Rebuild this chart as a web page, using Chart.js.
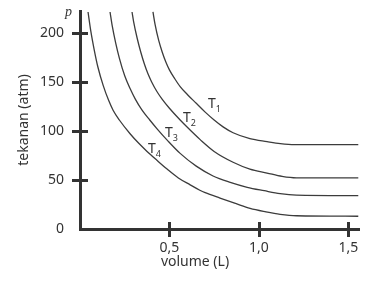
<!DOCTYPE html>
<html>
<head>
<meta charset="utf-8">
<script src="https://cdn.jsdelivr.net/npm/chart.js@4.4.1/dist/chart.umd.min.js"></script>
<style>
  html, body { margin: 0; padding: 0; background: #fff; }
  #wrap { width: 389px; height: 283px; }
</style>
</head>
<body>
<div id="wrap"><canvas id="isoChart" width="389" height="283"></canvas></div>
<script>
// Isotherms, volume (L) vs tekanan (atm)
var volT1 = [0.408, 0.42, 0.44, 0.46, 0.48, 0.50, 0.53, 0.56, 0.60, 0.65, 0.70, 0.75, 0.80, 0.856, 0.95, 1.046, 1.12, 1.20, 1.556];
var pT1   = [221,   208,  192,  180,  170,  162,  153,  145,  137,  128,  119,  111,  104,  98,    92,   89,    87,   86,   86];

var volT2 = [0.291, 0.30, 0.32, 0.34, 0.36, 0.38, 0.40, 0.43, 0.46, 0.50, 0.56, 0.62, 0.672, 0.75, 0.856, 0.95, 1.046, 1.13, 1.21, 1.556];
var pT2   = [221,   211,  194,  180,  168,  158,  150,  140,  132,  123,  111,  100,  91,    79,   68,    61,   57,    53.5, 52,   52];

var volT3 = [0.168, 0.18, 0.20, 0.22, 0.25, 0.28, 0.31, 0.347, 0.39, 0.431, 0.49, 0.56, 0.65, 0.744, 0.84, 0.935, 1.03, 1.119, 1.21, 1.556];
var pT3   = [221,   207,  189,  174,  156,  143,  132,  121,   111,  102,   90,   77,   64,   54,    47.5, 42.5,  39,   36,    34.5, 34];

var volT4 = [0.045, 0.06, 0.08, 0.10, 0.13, 0.16, 0.185, 0.22, 0.28, 0.33, 0.375, 0.43, 0.487, 0.55, 0.616, 0.67, 0.70, 0.783, 0.87, 0.951, 1.04, 1.119, 1.21, 1.556];
var pT4   = [221,   202,  182,  165,  146,  131,  121,   111,  97,   87,   79,    70,   61,    52,   45,    39.5, 37,   31.5,  26,   21,    17.5, 15,    13.5, 13];

var yTicks = [0, 50, 100, 150, 200];
var xTicks = [0.5, 1.0, 1.5];
var xTickLabels = ['0,5', '1,0', '1,5'];

// curve names and where their labels sit (in volume / pressure units)
var curveSubs = ['1', '2', '3', '4'];
var labelVol = [0.716, 0.576, 0.475, 0.380];
var labelP   = [123, 109, 94, 77];

var ink = '#333';
var font = '"Noto Sans", "DejaVu Sans", sans-serif';

function toPoints(vs, ps) {
    return vs.map(function (v, i) { return { x: v, y: ps[i] }; });
}

function curve(vs, ps) {
    return {
        data: toPoints(vs, ps),
        showLine: true,
        borderColor: '#3c3c3c',
        borderWidth: 1.3,
        pointRadius: 0,
        cubicInterpolationMode: 'monotone',
        fill: false
    };
}

// crossing tick marks, curve labels, the little p and the x title
var extras = {
    id: 'extras',
    afterDraw: function (chart) {
        var ctx = chart.ctx;
        var area = chart.chartArea;
        var xs = chart.scales.x, ys = chart.scales.y;
        ctx.save();
        ctx.strokeStyle = ink;
        ctx.lineWidth = 3;
        yTicks.forEach(function (v) {
            if (v === 0) return;
            var py = Math.round(ys.getPixelForValue(v)) + 0.5;
            ctx.beginPath();
            ctx.moveTo(area.left - 8, py);
            ctx.lineTo(area.left + 8, py);
            ctx.stroke();
        });
        xTicks.forEach(function (v) {
            var px = Math.round(xs.getPixelForValue(v)) + 0.5;
            ctx.beginPath();
            ctx.moveTo(px, area.bottom - 7);
            ctx.lineTo(px, area.bottom + 8);
            ctx.stroke();
        });

        ctx.fillStyle = ink;
        ctx.textBaseline = 'alphabetic';
        ctx.textAlign = 'left';
        curveSubs.forEach(function (s, i) {
            var px = xs.getPixelForValue(labelVol[i]);
            var py = ys.getPixelForValue(labelP[i]);
            ctx.font = '14px ' + font;
            ctx.fillText('T', px, py);
            var w = ctx.measureText('T').width;
            ctx.font = '9px ' + font;
            ctx.fillText(s, px + w, py + 4);
        });

        ctx.font = 'italic 14px "Liberation Serif", "DejaVu Serif", serif';
        ctx.fillText('p', area.left - 15, area.top + 5);

        ctx.font = '14px ' + font;
        ctx.textAlign = 'center';
        ctx.textBaseline = 'middle';
        ctx.fillText('volume (L)', area.left + 115, 262);
        ctx.restore();
    }
};

Chart.defaults.color = ink;
Chart.defaults.font.family = font;
Chart.defaults.font.size = 14;

var ctx = document.getElementById('isoChart').getContext('2d');
var isoChart = new Chart(ctx, {
    type: 'scatter',
    data: {
        datasets: [
            curve(volT1, pT1),
            curve(volT2, pT2),
            curve(volT3, pT3),
            curve(volT4, pT4)
        ]
    },
    options: {
        responsive: false,
        animation: false,
        layout: { padding: { top: 11, right: 30, left: 0, bottom: 0 } },
        plugins: {
            legend: { display: false },
            tooltip: { enabled: false }
        },
        scales: {
            x: {
                type: 'linear',
                min: 0,
                max: 1.56,
                grid: { display: false, drawTicks: false },
                border: { display: true, color: ink, width: 3 },
                afterBuildTicks: function (scale) {
                    scale.ticks = xTicks.map(function (v) { return { value: v }; });
                },
                afterFit: function (scale) {
                    scale.height = 54;
                    scale.paddingLeft = 0;
                    scale.paddingRight = 0;
                },
                ticks: {
                    padding: 11,
                    callback: function (value, index) { return xTickLabels[index]; }
                }
            },
            y: {
                type: 'linear',
                min: 0,
                max: 222,
                grid: { display: false, drawTicks: false },
                border: { display: true, color: ink, width: 3 },
                afterBuildTicks: function (scale) {
                    scale.ticks = yTicks.map(function (v) { return { value: v }; });
                },
                afterFit: function (scale) {
                    scale.width = 80;
                    scale.paddingTop = 0;
                    scale.paddingBottom = 0;
                },
                ticks: { padding: 16 },
                title: {
                    display: true,
                    text: 'tekanan (atm)',
                    font: { size: 14 },
                    padding: { top: 16, bottom: 0 }
                }
            }
        }
    },
    plugins: [extras]
});
</script>
</body>
</html>
